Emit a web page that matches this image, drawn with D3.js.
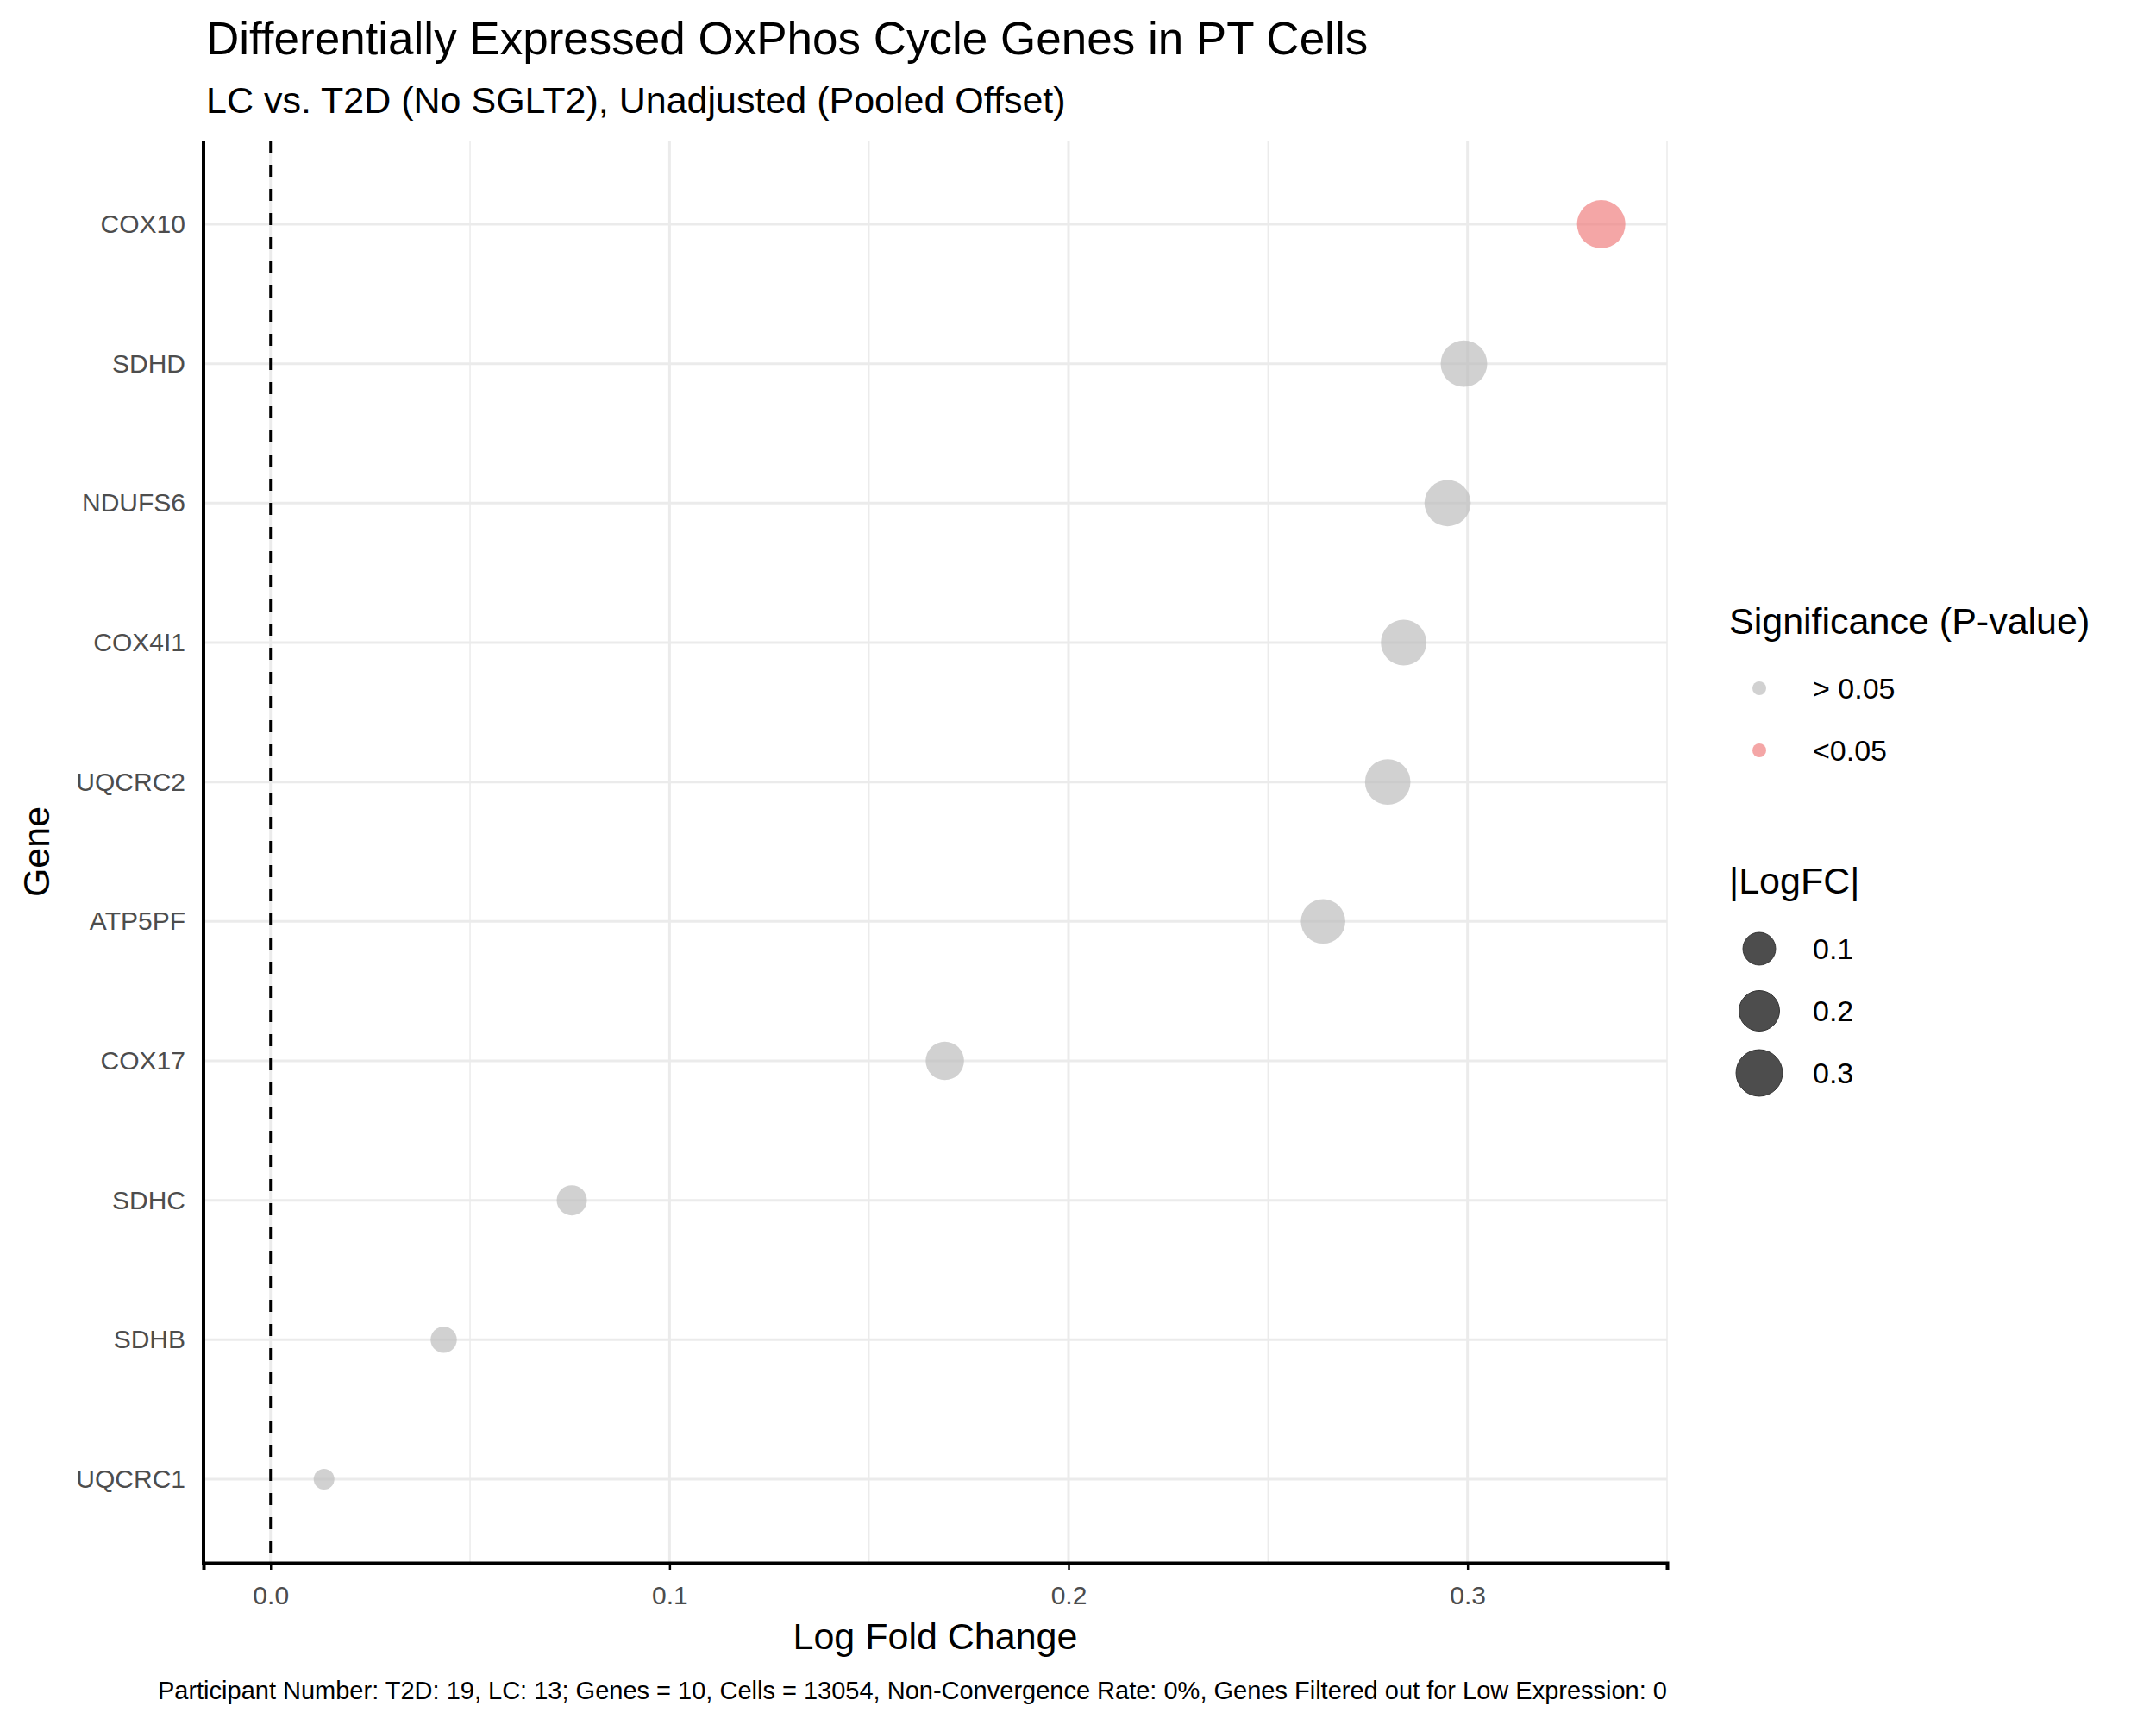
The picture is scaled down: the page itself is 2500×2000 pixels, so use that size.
<!DOCTYPE html>
<html>
<head>
<meta charset="utf-8">
<script src="https://cdn.jsdelivr.net/npm/d3@7"></script>
<style>
  body { margin: 0; background: #fff; }
  text { font-family: "Liberation Sans", Arial, sans-serif; }
</style>
</head>
<body>
<svg id="chart" width="2500" height="2000"></svg>
<script>
const genes = ['COX10', 'SDHD', 'NDUFS6', 'COX4I1', 'UQCRC2', 'ATP5PF', 'COX17', 'SDHC', 'SDHB', 'UQCRC1']
const logFC = [0.3335, 0.2991, 0.2950, 0.2840, 0.2800, 0.2638, 0.1690, 0.0755, 0.0434, 0.0134]
const significant = [true, false, false, false, false, false, false, false, false, false]
const xTicks = [0, 0.1, 0.2, 0.3]
const xMinor = [0.05, 0.15, 0.25, 0.35]
const sizeBreaks = [0.1, 0.2, 0.3]

const pLeft = 236, pRight = 1933, pTop = 163, pBottom = 1812

const svg = d3.select('#chart')

const x = d3.scaleLinear().domain([-0.0168, 0.35]).range([pLeft, pRight])
const y = d3.scalePoint().domain(genes).range([pTop, pBottom]).padding(0.6)
const r = d3.scaleSqrt().domain([0.0134, 0.3335]).range([12, 28])

// grid
svg.append('g').selectAll('line').data(xMinor).enter().append('line')
  .attr('x1', d => x(d)).attr('x2', d => x(d)).attr('y1', pTop).attr('y2', pBottom)
  .attr('stroke', '#ebebeb').attr('stroke-width', 1.5)
svg.append('g').selectAll('line').data(xTicks).enter().append('line')
  .attr('x1', d => x(d)).attr('x2', d => x(d)).attr('y1', pTop).attr('y2', pBottom)
  .attr('stroke', '#ebebeb').attr('stroke-width', 3)
svg.append('g').selectAll('line').data(genes).enter().append('line')
  .attr('x1', pLeft).attr('x2', pRight).attr('y1', d => y(d)).attr('y2', d => y(d))
  .attr('stroke', '#ebebeb').attr('stroke-width', 3)

// zero line
svg.append('line').attr('x1', x(0)).attr('x2', x(0)).attr('y1', pTop).attr('y2', pBottom)
  .attr('stroke', '#000').attr('stroke-width', 3).attr('stroke-dasharray', '14,14')

// points
svg.append('g').selectAll('circle').data(genes).enter().append('circle')
  .attr('cx', (d, i) => x(logFC[i])).attr('cy', d => y(d)).attr('r', (d, i) => r(logFC[i]))
  .attr('fill', (d, i) => significant[i] ? '#F08080' : '#bebebe')
  .attr('fill-opacity', 0.7)

// axes
const xAxis = svg.append('g').attr('transform', `translate(0,${pBottom})`)
  .call(d3.axisBottom(x).tickValues(xTicks).tickFormat(d3.format('.1f')).tickSizeOuter(0).tickSize(8))
xAxis.select('.domain').attr('stroke', '#000').attr('stroke-width', 4)
xAxis.selectAll('.tick line').attr('stroke', '#000').attr('stroke-width', 2.5)
xAxis.selectAll('.tick text').attr('font-size', 30).attr('fill', '#4d4d4d').attr('dy', 0).attr('y', 48)

const yAxis = svg.append('g').attr('transform', `translate(${pLeft},0)`)
  .call(d3.axisLeft(y).tickSize(0).tickPadding(21))
yAxis.select('.domain').attr('stroke', '#000').attr('stroke-width', 4)
  .attr('d', `M0,${pTop}V${pBottom + 2}`)
yAxis.selectAll('.tick text').attr('font-size', 30).attr('fill', '#4d4d4d')

// titles
svg.append('text').attr('x', 239).attr('y', 63).attr('font-size', 53).text('Differentially Expressed OxPhos Cycle Genes in PT Cells')
svg.append('text').attr('x', 239).attr('y', 131).attr('font-size', 43).text('LC vs. T2D (No SGLT2), Unadjusted (Pooled Offset)')
svg.append('text').attr('x', (pLeft + pRight) / 2).attr('y', 1912).attr('font-size', 43).attr('text-anchor', 'middle').text('Log Fold Change')
svg.append('text').attr('transform', `translate(42,${(pTop + pBottom) / 2}) rotate(-90)`).attr('font-size', 43)
  .attr('text-anchor', 'middle').attr('dominant-baseline', 'central').text('Gene')
svg.append('text').attr('x', pRight).attr('y', 1970).attr('font-size', 29).attr('text-anchor', 'end')
  .text('Participant Number: T2D: 19, LC: 13; Genes = 10, Cells = 13054, Non-Convergence Rate: 0%, Genes Filtered out for Low Expression: 0')

// legends
const lg = svg.append('g')
lg.append('text').attr('x', 2005).attr('y', 735).attr('font-size', 43).text('Significance (P-value)')
const sigLabels = ['> 0.05', '<0.05']
const sigColors = ['#bebebe', '#F08080']
sigLabels.forEach((lab, i) => {
  lg.append('circle').attr('cx', 2040).attr('cy', 798 + i * 72).attr('r', 8)
    .attr('fill', sigColors[i]).attr('fill-opacity', 0.7)
  lg.append('text').attr('x', 2102).attr('y', 810 + i * 72).attr('font-size', 34).text(lab)
})
lg.append('text').attr('x', 2005).attr('y', 1036).attr('font-size', 43).text('|LogFC|')
sizeBreaks.forEach((b, i) => {
  lg.append('circle').attr('cx', 2040).attr('cy', 1100 + i * 72).attr('r', r(b))
    .attr('fill', '#4d4d4d').attr('stroke', '#333').attr('stroke-width', 1)
  lg.append('text').attr('x', 2102).attr('y', 1112 + i * 72).attr('font-size', 34).text(d3.format('.1f')(b))
})
</script>
</body>
</html>
